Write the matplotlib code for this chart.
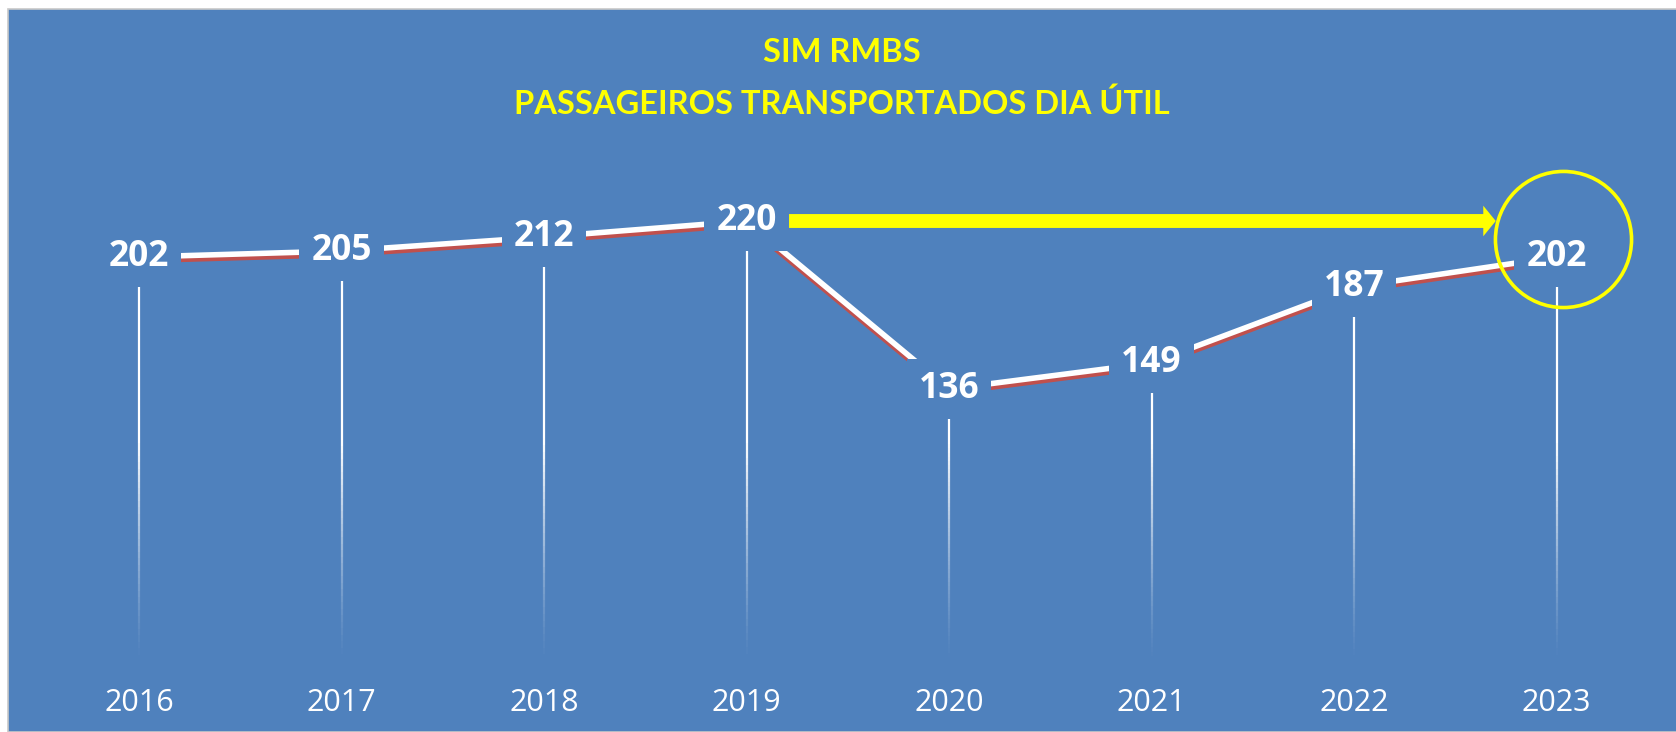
import matplotlib; matplotlib.use('Agg')
import matplotlib.pyplot as plt
import matplotlib.patheffects as pe
from matplotlib.patches import Rectangle
from matplotlib.collections import LineCollection
import numpy as np

years = ['2016', '2017', '2018', '2019', '2020', '2021', '2022', '2023']
passengers = [202, 205, 212, 220, 136, 149, 187, 202]
title_lines = ['SIM RMBS', 'PASSAGEIROS TRANSPORTADOS DIA ÚTIL']

BG = '#4F81BD'; RED = '#C0504D'; YEL = '#FFFF00'
W, H = 1676, 732
fig = plt.figure(figsize=(W/100, H/100), dpi=100, facecolor='white')
fig.patches.append(Rectangle((8/W, 0), 1, 1-9/H, transform=fig.transFigure,
                             facecolor=BG, edgecolor='#c8c8c8', lw=1.2, zorder=-10))
ax = fig.add_axes([8/W, 0, 1-8/W, 1-9/H])
ax.set_facecolor('none')
ax.axis('off')
ax.set_xlim(-0.647, 7.59)
ax.set_ylim(-35.5, 326)

x = np.arange(len(years))

# drop lines, fading toward the bottom
for xi, v in zip(x, passengers):
    ys = np.linspace(v - 13, 0, 60)
    segs = [[(xi, ys[i]), (xi, ys[i+1])] for i in range(len(ys)-1)]
    mid = (ys[:-1] + ys[1:]) / 2
    alphas = np.clip(mid / 110, 0, 1) ** 1.3
    cols = [(1, 1, 1, a) for a in alphas]
    ax.add_collection(LineCollection(segs, colors=cols, linewidths=1.6, zorder=2))

ax.plot(x, passengers, color='white', lw=4, solid_capstyle='butt', zorder=3,
        path_effects=[pe.SimpleLineShadow(offset=(0, -2.6), shadow_color=RED, alpha=1, rho=1),
                      pe.Normal()])

for xi, v in zip(x, passengers):
    ax.text(xi, v, str(v), ha='center', va='center', color='white', fontsize=25.5,
            fontweight='bold', family=['Open Sans', 'DejaVu Sans'], zorder=5,
            bbox=dict(boxstyle='square,pad=0.34', facecolor=BG, edgecolor='none'))

for xi, yr in zip(x, years):
    ax.text(xi, -21, yr, ha='center', va='center', color='white', fontsize=22,
            family=['Open Sans', 'DejaVu Sans'], zorder=5)

# highlight: 2019 level reached again in 2023
ax.annotate('', xy=(x[-1] - 0.30, passengers[3]), xytext=(x[3] + 0.21, passengers[3]),
            arrowprops=dict(facecolor=YEL, edgecolor='none', width=10, headwidth=22,
                            headlength=9, shrink=0), zorder=6)
ax.plot([x[-1] + 0.03], [(passengers[3] + passengers[-1]) / 2], marker='o', ms=98,
        mfc='none', mec=YEL, mew=2.6, zorder=7)

for t, ypx in zip(title_lines, [53, 104]):
    fig.text(0.5 + 4/W, 1 - ypx/H, t, ha='center', va='center', color=YEL,
             fontsize=23.5, fontweight='bold', family=['Lato', 'DejaVu Sans'])

fig.savefig('out.png', dpi=100, facecolor='white')
